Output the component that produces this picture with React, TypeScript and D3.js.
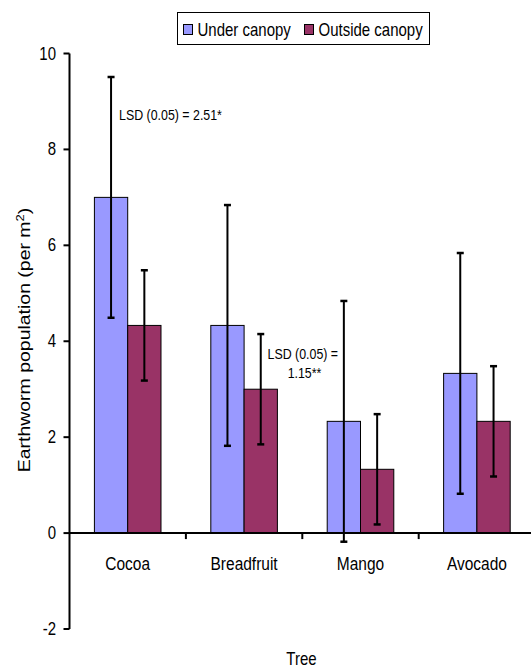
import React from "react";
import * as d3 from "d3";

const categories = ["Cocoa", "Breadfruit", "Mango", "Avocado"];
const seriesNames = ["Under canopy", "Outside canopy"];
const underCanopy = [7.0, 4.33, 2.33, 3.33];
const outsideCanopy = [4.33, 3.0, 1.33, 2.33];
const underError = [2.51, 2.51, 2.51, 2.51];
const outsideError = [1.15, 1.15, 1.15, 1.15];
const yTicks = [-2, 0, 2, 4, 6, 8, 10];
const colors = ["#9999FF", "#993366"];

const W = 531;
const H = 668;
const SY = 1.18;
const FONT = "'Liberation Sans', Arial, sans-serif";

export default function App() {
  const left = 69.5;
  const right = 69.5 + 4 * 116.4;
  const x = d3
    .scaleBand<string>()
    .domain(categories)
    .range([left, right])
    .paddingInner(0.428)
    .paddingOuter(0.214);
  const x1 = d3.scaleBand<number>().domain([0, 1]).range([0, x.bandwidth()]);
  const y = d3.scaleLinear().domain([-2, 10]).range([629, 53.5]);

  const series = [
    { vals: underCanopy, err: underError },
    { vals: outsideCanopy, err: outsideError },
  ];

  const txt = (
    tx: number,
    ty: number,
    s: string,
    size: number,
    anchor: string = "start",
    key?: string
  ) => (
    <text
      key={key}
      transform={`translate(${tx},${ty}) scale(1,${SY})`}
      fontSize={size}
      textAnchor={anchor}
      fontFamily={FONT}
      fill="#000"
    >
      {s}
    </text>
  );

  const stepStart = categories.map((_, i) => left + i * 116.4);

  return (
    <svg
      width={W}
      height={H}
      style={{ position: "absolute", left: 0, top: 0, background: "#fff" }}
    >
      {/* bars */}
      {series.map((s, si) =>
        categories.map((c, i) => {
          const bx = (x(c) as number) + (x1(si) as number);
          const v = s.vals[i];
          return (
            <rect
              key={`b${si}-${i}`}
              x={bx}
              y={y(v)}
              width={x1.bandwidth()}
              height={y(0) - y(v)}
              fill={colors[si]}
              stroke="#000"
              strokeWidth={1}
            />
          );
        })
      )}
      {/* axes */}
      <line x1={left} x2={W + 10} y1={y(0)} y2={y(0)} stroke="#000" strokeWidth={2} />
      <line x1={left} x2={left} y1={y(10)} y2={y(-2)} stroke="#000" strokeWidth={2} />
      {yTicks.map((t) => (
        <g key={`yt${t}`}>
          <line x1={left - 6} x2={left} y1={y(t)} y2={y(t)} stroke="#000" strokeWidth={2} />
          {txt(56, y(t) + 6, String(t), 15, "end")}
        </g>
      ))}
      {stepStart.map((sx, i) =>
        i === 0 ? null : (
          <line key={`xt${i}`} x1={sx} x2={sx} y1={y(0)} y2={y(0) + 6} stroke="#000" strokeWidth={2} />
        )
      )}
      {categories.map((c) =>
        txt((x(c) as number) + x.bandwidth() / 2, 569.5, c, 15.5, "middle", `cl${c}`)
      )}
      {/* error bars */}
      {series.map((s, si) =>
        categories.map((c, i) => {
          const cx = (x(c) as number) + (x1(si) as number) + x1.bandwidth() / 2;
          const hi = y(s.vals[i] + s.err[i]);
          const lo = y(s.vals[i] - s.err[i]);
          return (
            <g key={`e${si}-${i}`} stroke="#000">
              <line x1={cx} x2={cx} y1={hi} y2={lo} strokeWidth={2} />
              <line x1={cx - 3.5} x2={cx + 3.5} y1={hi} y2={hi} strokeWidth={2.5} />
              <line x1={cx - 3.5} x2={cx + 3.5} y1={lo} y2={lo} strokeWidth={2.5} />
            </g>
          );
        })
      )}
      {/* annotations */}
      {txt(119, 120, "LSD (0.05) = 2.51*", 12.4)}
      {txt(267.5, 358.5, "LSD (0.05) =", 12.4)}
      {txt(304.5, 377.5, "1.15**", 12.4, "middle")}
      {/* axis titles */}
      {txt(301.5, 665, "Tree", 15, "middle")}
      <text
        transform={`translate(30,340) scale(1,${SY}) rotate(-90)`}
        fontSize={16.5}
        textAnchor="middle"
        fontFamily={FONT}
      >
        Earthworm population (per m
        <tspan fontSize={11} dy={-6}>2</tspan>
        <tspan dy={6}>)</tspan>
      </text>
      {/* legend */}
      <rect x={177.5} y={12.5} width={252} height={32} fill="#fff" stroke="#000" strokeWidth={1} />
      {seriesNames.map((n, i) => {
        const lx = i === 0 ? 183.5 : 304.5;
        return (
          <g key={`lg${i}`}>
            <rect x={lx} y={24.5} width={9} height={10} fill={colors[i]} stroke="#000" strokeWidth={1} />
            {txt(lx + 14, 35.5, n, 15)}
          </g>
        );
      })}
    </svg>
  );
}
